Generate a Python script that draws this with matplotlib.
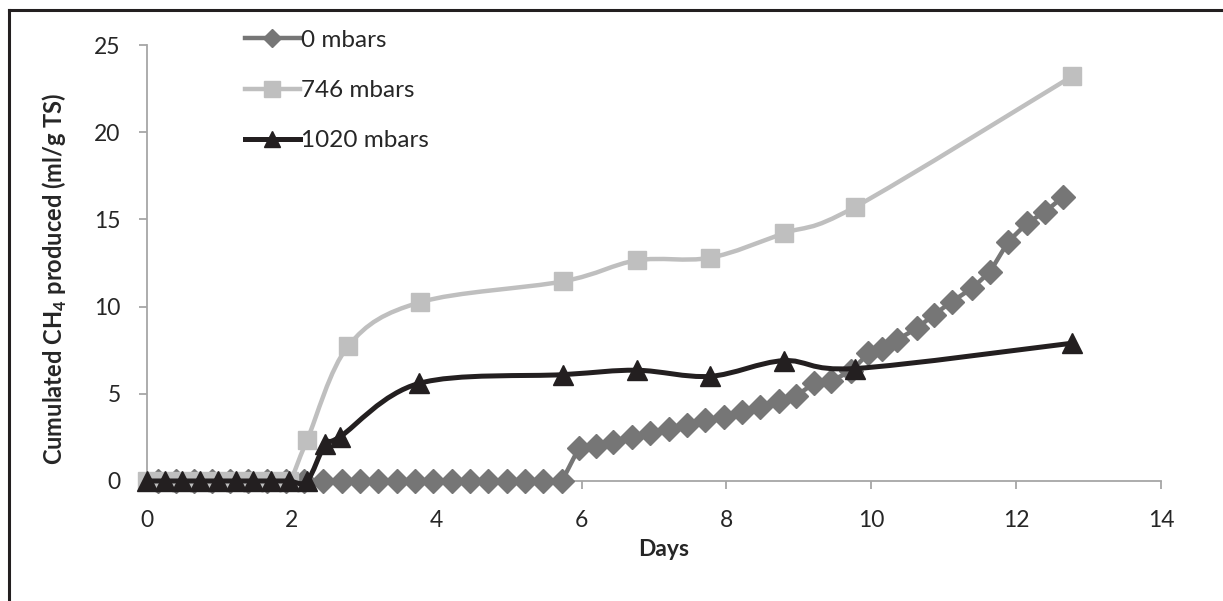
import matplotlib
matplotlib.use("Agg")
import matplotlib.pyplot as plt
from matplotlib.path import Path
from matplotlib.patches import PathPatch
from matplotlib.lines import Line2D

plt.rcParams['font.family'] = ['Lato', 'DejaVu Sans']
plt.rcParams['mathtext.fontset'] = 'custom'
plt.rcParams['mathtext.rm'] = 'Lato'
plt.rcParams['mathtext.bf'] = 'Lato:bold'

# series (days, ml CH4 / g TS)
days_0 = [0.15, 0.4, 0.65, 0.9, 1.15, 1.4, 1.66, 1.92, 2.17, 2.43, 2.69, 2.94,
          3.19, 3.45, 3.70, 3.95, 4.21, 4.46, 4.71, 4.97, 5.22, 5.47, 5.73,
          5.96, 6.20, 6.44, 6.70, 6.94, 7.21, 7.46, 7.70, 7.96, 8.21, 8.46,
          8.72, 8.96, 9.21, 9.45, 9.72, 9.96, 10.15, 10.35, 10.63, 10.86,
          11.11, 11.39, 11.64, 11.89, 12.15, 12.40, 12.65]
ch4_0 = [0] * 23 + [1.87, 2.0, 2.25, 2.54, 2.73, 3.0, 3.2, 3.48, 3.69, 3.97,
                    4.26, 4.58, 4.88, 5.6, 5.75, 6.3, 7.32, 7.55, 8.08, 8.76,
                    9.52, 10.28, 11.05, 12.0, 13.72, 14.78, 15.44, 16.3]

days_746 = [0, 0.245, 0.49, 0.735, 0.98, 1.225, 1.47, 1.715, 1.96,
            2.21, 2.78, 3.77, 5.75, 6.76, 7.77, 8.79, 9.77, 12.77]
ch4_746 = [0, 0, 0, 0, 0, 0, 0, 0, 0,
           2.35, 7.75, 10.25, 11.45, 12.65, 12.8, 14.2, 15.7, 23.2]

days_1020 = [0, 0.245, 0.49, 0.735, 0.98, 1.225, 1.47, 1.715, 1.96, 2.21,
             2.46, 2.67, 3.76, 5.75, 6.76, 7.77, 8.79, 9.78, 12.77]
ch4_1020 = [0, 0, 0, 0, 0, 0, 0, 0, 0, 0,
            2.1, 2.55, 5.6, 6.1, 6.35, 6.0, 6.9, 6.45, 7.9]

labels = ['0 mbars', '746 mbars', '1020 mbars']
colors = ['#767676', '#bfbfbf', '#231f20']


def smooth_path(x, y):
    # Excel-like smoothed line: cubic Bezier through the points
    n = len(x)
    verts = [(x[0], y[0])]
    codes = [Path.MOVETO]
    for i in range(n - 1):
        x0, y0 = (x[i - 1], y[i - 1]) if i > 0 else (x[i], y[i])
        x3, y3 = (x[i + 2], y[i + 2]) if i + 2 < n else (x[i + 1], y[i + 1])
        c1 = (x[i] + (x[i + 1] - x0) / 6, y[i] + (y[i + 1] - y0) / 6)
        c2 = (x[i + 1] - (x3 - x[i]) / 6, y[i + 1] - (y3 - y[i]) / 6)
        verts += [c1, c2, (x[i + 1], y[i + 1])]
        codes += [Path.CURVE4] * 3
    return Path(verts, codes)


fig = plt.figure(figsize=(12.23, 6.01), dpi=100)
ax = fig.add_axes([0.1202, 0.1997, 0.8291, 0.7254])

# 0 mbars: straight segments
ax.plot(days_0, ch4_0, color=colors[0], lw=3.2, marker='D', ms=12.5,
        mec=colors[0], zorder=3, clip_on=False)

# 746 and 1020 mbars: smoothed lines
ax.add_patch(PathPatch(smooth_path(days_746, ch4_746), fill=False,
                       ec=colors[1], lw=3.2, zorder=4, clip_on=False))
ax.plot(days_746, ch4_746, ls='none', marker='s', ms=13, color=colors[1],
        zorder=4.5, clip_on=False)
ax.add_patch(PathPatch(smooth_path(days_1020, ch4_1020), fill=False,
                       ec=colors[2], lw=3.6, zorder=5, clip_on=False))
ax.plot(days_1020, ch4_1020, ls='none', marker='^', ms=14, color=colors[2],
        zorder=5.5, clip_on=False)

ax.set_xlim(0, 14)
ax.set_ylim(0, 25)
ax.set_xticks(range(0, 15, 2))
ax.set_yticks(range(0, 26, 5))

for s in ['top', 'right']:
    ax.spines[s].set_visible(False)
for s in ['left', 'bottom']:
    ax.spines[s].set_color('#a6a6a6')
    ax.spines[s].set_linewidth(1.3)
ax.tick_params(colors='#a6a6a6', labelcolor='#262626', labelsize=16.5,
               length=6, width=1.3)
ax.tick_params(axis='y', pad=13)
ax.tick_params(axis='x', pad=15)

ax.set_ylabel(r'Cumulated CH$_\mathbf{4}$ produced (ml/g TS)',
              fontsize=17, fontweight='bold', color='#262626')
ax.yaxis.set_label_coords(-0.077, 0.463)
ax.set_xlabel('Days', fontsize=16.5, fontweight='bold', color='#262626')
ax.xaxis.set_label_coords(0.509, -0.132)

handles = [
    Line2D([], [], color=colors[0], lw=3.2, marker='D', ms=9),
    Line2D([], [], color=colors[1], lw=3.2, marker='s', ms=11.5),
    Line2D([], [], color=colors[2], lw=3.6, marker='^', ms=12),
]
ax.legend(handles, labels, loc='upper left', bbox_to_anchor=(0.075, 1.085),
          frameon=False, fontsize=17.5, handlelength=2.25, handletextpad=0.05,
          labelspacing=1.2, labelcolor='#262626')

# frame around the figure (top and left only are visible)
fig.add_artist(Line2D([9 / 1223, 1], [1 - 10 / 601, 1 - 10 / 601],
                      color='#231f20', lw=2.2))
fig.add_artist(Line2D([9 / 1223, 9 / 1223], [0, 1 - 10 / 601],
                      color='#231f20', lw=2.2))

fig.savefig('out.png', dpi=100)
